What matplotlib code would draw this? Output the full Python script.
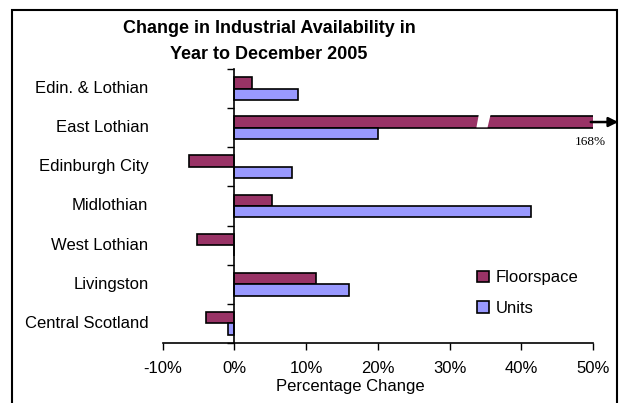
import matplotlib.pyplot as plt
import numpy as np
from matplotlib.patches import Rectangle, Polygon

plt.rcParams['font.family'] = ['Liberation Sans', 'DejaVu Sans']

areas = ['Edin. & Lothian', 'East Lothian', 'Edinburgh City', 'Midlothian',
         'West Lothian', 'Livingston', 'Central Scotland']
floorspace = [2.5, 168, -6.3, 5.3, -5.2, 11.4, -4.0]
units = [8.9, 20.0, 8.0, 41.4, 0.0, 16.0, -0.9]
xticks = [-10, 0, 10, 20, 30, 40, 50]

floor_col = '#993366'
units_col = '#9999FF'

fig = plt.figure(figsize=(6.19, 4.03), dpi=100)
ax = fig.add_axes([0.2628, 0.1489, 0.6952, 0.6799])

y = np.arange(len(areas))
h = 0.29
ax.barh(y - h/2, floorspace, height=h, color=floor_col, edgecolor='black',
        linewidth=1.2, label='Floorspace', zorder=2)
ax.barh(y + h/2, units, height=h, color=units_col, edgecolor='black',
        linewidth=1.2, label='Units', zorder=2)

ax.set_xlim(-10, 50)
ax.set_ylim(len(areas) - 0.5, -0.5)

# y axis sits on zero, ticks between categories
for s in ['top', 'right']:
    ax.spines[s].set_visible(False)
ax.spines['left'].set_position(('data', 0))
ax.spines['left'].set_linewidth(1.2)
ax.spines['bottom'].set_linewidth(1.2)
ax.set_yticks(np.arange(len(areas) + 1) - 0.5)
ax.set_yticklabels([])
ax.tick_params(axis='y', length=5, width=1, direction='out')
for i, name in enumerate(areas):
    ax.text(-0.033, i, name, transform=ax.get_yaxis_transform(),
            ha='right', va='center', fontsize=12)

ax.set_xticks(xticks)
ax.set_xticklabels([f'{t}%' for t in xticks], fontsize=12)
ax.tick_params(axis='x', length=5, width=1, direction='out', pad=8)
ax.set_xlabel('Percentage Change', fontsize=12)
ax.xaxis.set_label_coords(0.437, -0.13)

# broken bar for the off-scale value (y axis is inverted: i - h is the top edge)
i = 1
gap = Polygon([(34.1, i - h - 0.07), (35.75, i - h - 0.07),
               (35.3, i - 0.01), (33.75, i - 0.01)],
              closed=True, facecolor='white', edgecolor='none', zorder=3)
ax.add_patch(gap)
ax.annotate('', xy=(53.9, i - h/2), xytext=(49.3, i - h/2),
            xycoords='data', annotation_clip=False,
            arrowprops=dict(arrowstyle='-|>', color='black', lw=1.8,
                            mutation_scale=14))
ax.text(49.6, i - h/2 + 0.52, f'{floorspace[i]:.0f}%', ha='center',
        va='center', fontsize=9.5, family=['Liberation Serif'])

ax.legend(loc='upper left', bbox_to_anchor=(0.715, 0.29), frameon=False,
          fontsize=12, handlelength=0.7, handleheight=0.7, handletextpad=0.4,
          labelspacing=0.95, borderaxespad=0)

fig.text(0.4345, 0.898, 'Change in Industrial Availability in\nYear to December 2005',
         ha='center', va='center', fontsize=13, fontweight='bold', linespacing=1.7)

fig.add_artist(Rectangle((12/619, -0.05), (617 - 12)/619, 1 - 10/403 + 0.05,
                         transform=fig.transFigure, fill=False,
                         edgecolor='black', linewidth=1.5))

fig.savefig('out.png', dpi=100)
